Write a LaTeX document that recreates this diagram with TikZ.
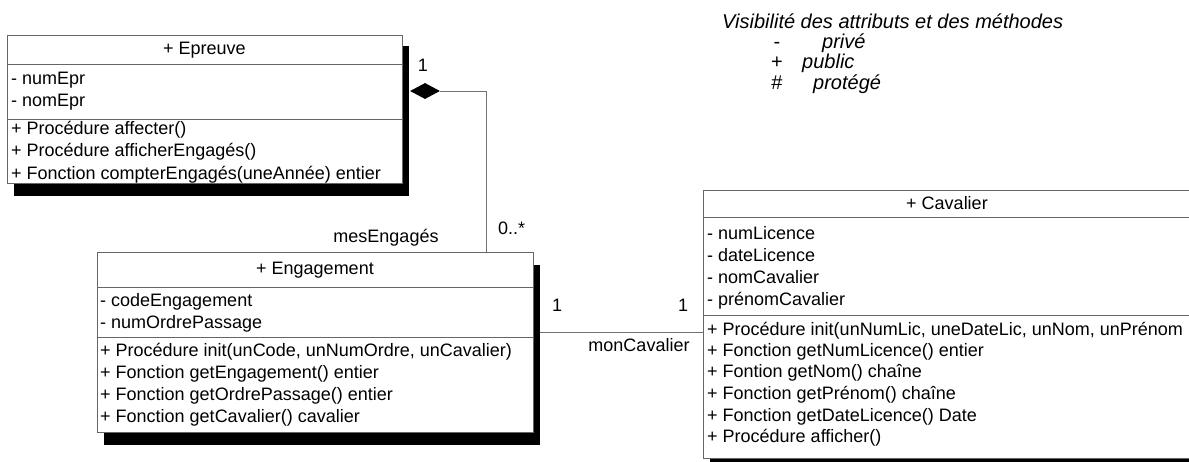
\documentclass[tikz,border=0pt]{standalone}
\usepackage{fontspec}
\setmainfont{Liberation Sans}
\usetikzlibrary{arrows.meta,shapes.geometric}
\begin{document}
\begin{tikzpicture}[x=1pt,y=-1pt,
  box/.style={draw=black!60, line width=0.7pt, fill=white, anchor=north west, inner sep=0pt},
  shadowbox/.style={fill=black, anchor=north west, inner sep=0pt},
  sep/.style={draw=black!60, line width=0.7pt},
  txt/.style={anchor=west, inner sep=0pt, font=\fontsize{18}{20}\selectfont, text height=13pt, text depth=3.5pt},
  ctxt/.style={txt, anchor=center},
  leg/.style={anchor=base west, inner sep=0pt, font=\fontsize{20}{22}\selectfont\itshape},
  legsym/.style={anchor=base, inner sep=0pt, font=\fontsize{20}{22}\selectfont},
  assoc/.style={draw=black!55, line width=0.7pt}
]
\useasboundingbox (0,0) rectangle (1189,461);

% ---------- Epreuve ----------
\node[shadowbox, minimum width=395pt, minimum height=150pt] (epS) at (14,46) {};
\node[box, minimum width=395pt, minimum height=148pt] (ep) at (7,35) {};
\draw[sep] (ep.west |- 0,64) -- (ep.east |- 0,64);
\draw[sep] (ep.west |- 0,119) -- (ep.east |- 0,119);
\node[ctxt] (epH) at (204.5,50) {+ Epreuve};
\node[txt] (ep1) at (11,80) {- numEpr};
\node[txt] (ep2) at (11,102) {- nomEpr};
\node[txt] (ep3) at (11,130) {+ Procédure affecter()};
\node[txt] (ep4) at (11,152) {+ Procédure afficherEngagés()};
\node[txt] (ep5) at (11,175) {+ Fonction compterEngagés(uneAnnée) entier};

% ---------- Engagement ----------
\node[shadowbox, minimum width=436pt, minimum height=180pt] (enS) at (104,265) {};
\node[box, minimum width=436pt, minimum height=180pt] (en) at (97,252) {};
\draw[sep] (en.west |- 0,287) -- (en.east |- 0,287);
\draw[sep] (en.west |- 0,337) -- (en.east |- 0,337);
\node[ctxt] (enH) at (315,270) {+ Engagement};
\node[txt] (en1) at (100,302) {- codeEngagement};
\node[txt] (en2) at (100,324) {- numOrdrePassage};
\node[txt] (en3) at (100,352) {+ Procédure init(unCode, unNumOrdre, unCavalier)};
\node[txt] (en4) at (100,374) {+ Fonction getEngagement() entier};
\node[txt] (en5) at (100,396) {+ Fonction getOrdrePassage() entier};
\node[txt] (en6) at (100,418) {+ Fonction getCavalier() cavalier};

% ---------- Cavalier ----------
\node[shadowbox, minimum width=488pt, minimum height=268pt] (cavS) at (710,203) {};
\node[box, minimum width=488pt, minimum height=268pt] (cav) at (703,190) {};
\draw[sep] (cav.west |- 0,217) -- (cav.east |- 0,217);
\draw[sep] (cav.west |- 0,315) -- (cav.east |- 0,315);
\node[ctxt] (cavH) at (947,205) {+ Cavalier};
\node[txt] (cav1) at (707,235) {- numLicence};
\node[txt] (cav2) at (707,257) {- dateLicence};
\node[txt] (cav3) at (707,279) {- nomCavalier};
\node[txt] (cav4) at (707,301) {- prénomCavalier};
\node[txt] (cav5) at (707,331) {+ Procédure init(unNumLic, uneDateLic, unNom, unPrénom};
\node[txt] (cav6) at (707,352) {+ Fonction getNumLicence() entier};
\node[txt] (cav7) at (707,373) {+ Fontion getNom() chaîne};
\node[txt] (cav8) at (707,395) {+ Fonction getPrénom() chaîne};
\node[txt] (cav9) at (707,417) {+ Fonction getDateLicence() Date};
\node[txt] (cav10) at (707,438) {+ Procédure afficher()};

% ---------- Composition Epreuve -- Engagement ----------
\node[diamond, fill=black, inner sep=0pt, minimum width=30pt, minimum height=16pt] (dia) at (425,91) {};
\coordinate (enTop) at (486,252);
\draw[assoc] (dia.east) -| (enTop);
\node[ctxt] (m1) at (423,67) {1};
\node[txt] (m2) at (498,230) {0..*};
\node[ctxt] (r1) at (386,238) {mesEngagés};

% ---------- Association Engagement -- Cavalier ----------
\draw[assoc] (enS.east |- 0,332) -- (cav.west |- 0,332);
\node[ctxt] (m3) at (557,307) {1};
\node[ctxt] (m4) at (683,307) {1};
\node[ctxt] (r2) at (639,347) {monCavalier};

% ---------- Legend ----------
\node[leg] (l0) at (722,28) {Visibilité des attributs et des méthodes};
\node[legsym] (s1) at (777,48) {-};
\node[leg] (l1) at (822,48) {privé};
\node[legsym] (s2) at (777,68) {+};
\node[leg] (l2) at (802,68) {public};
\node[legsym] (s3) at (777,89) {\#};
\node[leg] (l3) at (813,89) {protégé};
\end{tikzpicture}
\end{document}
